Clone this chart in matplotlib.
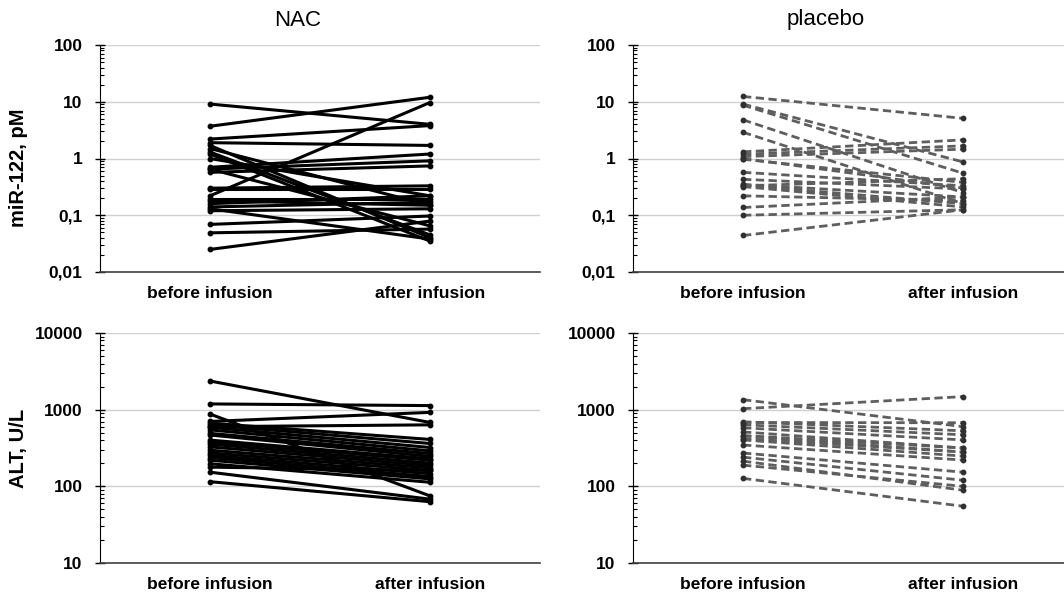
import numpy as np
import matplotlib
matplotlib.use("Agg")
import matplotlib.pyplot as plt
from matplotlib.ticker import FixedLocator, FixedFormatter, LogLocator, NullFormatter

plt.rcParams["font.family"] = ["Liberation Sans", "DejaVu Sans"]

# DATA
groups = ["before infusion", "after infusion"]

# miR-122, pM -- NAC group (before, after)
mir_nac_before = [9.1, 3.7, 2.2, 1.9, 1.7, 1.5, 1.2, 0.70, 0.65, 0.57, 0.30, 0.29, 0.22,
                  0.19, 0.16, 0.14, 0.12, 0.069, 0.049, 0.025, 1.3, 0.65, 0.13, 0.18, 1.0]
mir_nac_after = [4.0, 12.0, 3.8, 1.7, 0.040, 0.15, 0.035, 1.2, 0.91, 0.74, 0.33, 0.29, 9.7,
                 0.19, 0.22, 0.17, 0.13, 0.097, 0.057, 0.079, 0.045, 0.065, 0.038, 0.15, 0.22]

# miR-122, pM -- placebo group
mir_pla_before = [12.4, 9.1, 8.7, 4.8, 2.9, 1.31, 1.19, 1.08, 0.97, 0.57, 0.43, 0.35,
                  0.33, 0.32, 0.22, 0.137, 0.10, 0.044, 1.0, 0.34]
mir_pla_after = [5.1, 0.87, 0.55, 0.25, 0.16, 2.13, 1.67, 1.46, 0.38, 0.33, 0.29, 0.21,
                 0.44, 0.14, 0.18, 0.21, 0.125, 0.125, 0.30, 0.16]

# ALT, U/L -- NAC group
alt_nac_before = [2365, 1188, 877, 702, 667, 634, 590, 545, 491, 467, 401, 381, 355,
                  327, 296, 273, 254, 237, 219, 197, 178, 153, 115, 600]
alt_nac_after = [681, 1130, 75, 922, 409, 362, 321, 290, 267, 246, 229, 219, 201,
                 187, 174, 161, 146, 134, 125, 113, 161, 68, 63, 634]

# ALT, U/L -- placebo group
alt_pla_before = [1030, 1350, 695, 635, 580, 513, 455, 403, 346, 272, 240, 213, 189,
                  127, 680, 460, 420]
alt_pla_after = [1480, 600, 530, 470, 403, 316, 280, 248, 220, 153, 120, 89, 100,
                 55, 675, 316, 280]

W, H = 1064, 593
fig = plt.figure(figsize=(W / 100, H / 100), dpi=100)


def px_axes(x0, y0, x1, y1):
    # axes rectangle given in pixel coords (top-left origin)
    return fig.add_axes([x0 / W, 1 - y1 / H, (x1 - x0) / W, (y1 - y0) / H])


def style_axes(ax, ymin, ymax, ylabels):
    ax.set_yscale("log")
    ax.set_ylim(ymin, ymax)
    ax.set_xlim(0, 2)
    majors = [ymin * 10 ** i for i in range(len(ylabels))]
    ax.yaxis.set_major_locator(FixedLocator(majors))
    ax.yaxis.set_major_formatter(FixedFormatter(ylabels))
    ax.yaxis.set_minor_locator(LogLocator(base=10, subs=np.arange(2, 10)))
    ax.yaxis.set_minor_formatter(NullFormatter())
    ax.tick_params(axis="y", which="major", direction="inout", length=7, width=1,
                   labelsize=12.5, pad=9)
    ax.tick_params(axis="y", which="minor", direction="in", length=3, width=0.8)
    for lab in ax.get_yticklabels():
        lab.set_fontweight("bold")
    ax.set_xticks([0.5, 1.5])
    ax.set_xticklabels(groups, fontsize=12.5, fontweight="bold")
    ax.tick_params(axis="x", length=0, pad=10)
    ax.grid(axis="y", which="major", color="#d0d0d0", linewidth=1)
    ax.set_axisbelow(True)
    for s in ["top", "right"]:
        ax.spines[s].set_visible(False)
    ax.spines["left"].set_color("black")
    ax.spines["bottom"].set_color("#404040")
    ax.spines["bottom"].set_linewidth(1.2)


def draw_pairs(ax, before, after, solid):
    for b, a in zip(before, after):
        if solid:
            ax.plot([0.5, 1.5], [b, a], color="black", linewidth=2.2,
                    marker="o", markersize=3.2, solid_capstyle="round")
        else:
            ax.plot([0.5, 1.5], [b, a], color="#5e5e5e", linewidth=2.0,
                    linestyle=(0, (3, 1.6)), marker="o", markersize=3.2,
                    markerfacecolor="#303030", markeredgecolor="#303030")


mir_labels = ["0,01", "0,1", "1", "10", "100"]
alt_labels = ["10", "100", "1000", "10000"]

ax1 = px_axes(100, 45, 540, 272)
style_axes(ax1, 0.01, 100, mir_labels)
draw_pairs(ax1, mir_nac_before, mir_nac_after, True)
ax1.set_ylabel("miR-122, pM", fontsize=14.5, fontweight="bold")
ax1.yaxis.set_label_coords(-0.163, 0.46)

ax2 = px_axes(633, 45, 1073, 272)
style_axes(ax2, 0.01, 100, mir_labels)
draw_pairs(ax2, mir_pla_before, mir_pla_after, False)

ax3 = px_axes(100, 333, 540, 563)
style_axes(ax3, 10, 10000, alt_labels)
draw_pairs(ax3, alt_nac_before, alt_nac_after, True)
ax3.set_ylabel("ALT, U/L", fontsize=14.5, fontweight="bold")
ax3.yaxis.set_label_coords(-0.163, 0.5)

ax4 = px_axes(633, 333, 1073, 563)
style_axes(ax4, 10, 10000, alt_labels)
draw_pairs(ax4, alt_pla_before, alt_pla_after, False)

fig.text(298 / W, 1 - 20 / H, "NAC", ha="center", va="center", fontsize=16)
fig.text(826 / W, 1 - 20 / H, "placebo", ha="center", va="center", fontsize=16)

fig.savefig("out.png", dpi=100)
